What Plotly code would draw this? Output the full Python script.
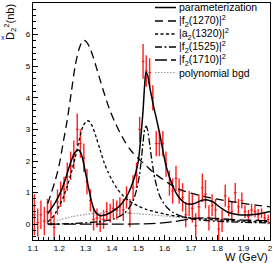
import plotly.graph_objects as go

# ---------------- data points (W in GeV, cross section in nb) ----------------
w_data = [1.105, 1.118, 1.130, 1.143, 1.155, 1.168, 1.180, 1.193, 1.205, 1.218,
          1.230, 1.243, 1.255, 1.268, 1.280, 1.293, 1.305, 1.318, 1.330, 1.343,
          1.355, 1.368, 1.380, 1.393, 1.405, 1.418, 1.430, 1.443, 1.455, 1.468,
          1.480, 1.493, 1.505, 1.518, 1.530, 1.543, 1.555, 1.568, 1.580, 1.593,
          1.605, 1.618, 1.630, 1.643, 1.655, 1.668, 1.680, 1.693, 1.705, 1.718,
          1.730, 1.743, 1.755, 1.768, 1.780, 1.793, 1.805, 1.818, 1.830, 1.843,
          1.855, 1.868, 1.880, 1.893, 1.905, 1.918, 1.930, 1.943, 1.955, 1.968,
          1.980, 1.993]
y_data = [0.30, 0.05, 0.30, 0.10, 0.40, 0.35, -0.10, 0.70, 0.95, 1.10,
          1.50, 1.85, 2.20, 3.00, 2.55, 2.10, 1.35, 0.75, 0.15, 0.20,
          0.05, 0.15, 0.40, 0.35, 0.50, 0.45, 0.55, 0.45, 0.85, 0.35,
          1.15, 1.55, 3.00, 5.15, 4.85, 4.80, 4.00, 2.55, 2.55, 2.55,
          1.90, 1.30, 1.05, 1.45, 1.05, 0.85, 0.30, 0.65, 0.50, -0.05,
          0.55, 1.15, 0.95, 0.20, 0.60, 0.45, -0.15, 0.10, 0.90, 0.55,
          0.40, 1.00, 0.55, 0.75, 0.40, 0.25, 0.45, 0.40, 0.30, 0.35,
          0.20, 0.15]
e_data = [0.65, 0.45, 0.45, 0.45, 0.40, 0.40, 0.40, 0.40, 0.40, 0.40,
          0.45, 0.45, 0.45, 0.50, 0.45, 0.45, 0.40, 0.35, 0.35, 0.30,
          0.30, 0.30, 0.30, 0.30, 0.30, 0.30, 0.30, 0.35, 0.35, 0.45,
          0.40, 0.40, 0.40, 0.55, 0.50, 0.45, 0.40, 0.40, 0.40, 0.40,
          0.40, 0.40, 0.40, 0.40, 0.40, 0.45, 0.40, 0.40, 0.45, 0.40,
          0.40, 0.45, 0.45, 0.40, 0.35, 0.35, 0.35, 0.35, 0.35, 0.30,
          0.30, 0.30, 0.25, 0.25, 0.20, 0.20, 0.20, 0.18, 0.18, 0.15,
          0.15, 0.15]
x_half = 0.005

# ---------------- fit components ----------------
w_param = [1.156, 1.17, 1.184, 1.197, 1.209, 1.222, 1.234, 1.245, 1.255, 1.265,
           1.272, 1.279, 1.286, 1.293, 1.30, 1.31, 1.32, 1.33, 1.342, 1.355,
           1.37, 1.385, 1.40, 1.418, 1.435, 1.45, 1.462, 1.472, 1.482, 1.49,
           1.50, 1.51, 1.518, 1.524, 1.529, 1.535, 1.542, 1.55, 1.56, 1.567,
           1.575, 1.585, 1.595, 1.607, 1.62, 1.635, 1.65, 1.665, 1.68, 1.695,
           1.71, 1.725, 1.74, 1.755, 1.77, 1.785, 1.80, 1.82, 1.84, 1.86,
           1.88, 1.90, 1.92, 1.94, 1.96, 1.98, 2.0]
y_param = [0.34, 0.50, 0.68, 0.88, 1.10, 1.40, 1.72, 2.00, 2.20, 2.32,
           2.35, 2.30, 2.15, 1.90, 1.60, 1.20, 0.80, 0.50, 0.33, 0.27,
           0.28, 0.33, 0.40, 0.50, 0.63, 0.80, 0.98, 1.17, 1.40, 1.62,
           2.00, 2.80, 3.60, 4.40, 4.82, 4.72, 4.40, 4.05, 3.65, 3.40,
           3.10, 2.70, 2.25, 1.80, 1.45, 1.13, 0.90, 0.75, 0.66, 0.63,
           0.65, 0.70, 0.75, 0.77, 0.75, 0.70, 0.60, 0.48, 0.38, 0.33,
           0.30, 0.29, 0.29, 0.31, 0.33, 0.36, 0.40]

w_f1270 = [1.156, 1.17, 1.185, 1.2, 1.215, 1.23, 1.245, 1.26, 1.275, 1.29,
           1.30, 1.315, 1.33, 1.35, 1.37, 1.39, 1.41, 1.43, 1.45, 1.475,
           1.5, 1.53, 1.56, 1.6, 1.65, 1.7, 1.76, 1.82, 1.88, 1.94, 2.0]
y_f1270 = [0.65, 1.00, 1.40, 1.90, 2.60, 3.30, 4.15, 5.00, 5.55, 5.82,
           5.80, 5.60, 5.25, 4.70, 4.15, 3.65, 3.25, 2.90, 2.60, 2.30,
           2.08, 1.85, 1.62, 1.38, 1.12, 0.98, 0.86, 0.76, 0.68, 0.61, 0.55]

w_a1320 = [1.156, 1.17, 1.185, 1.2, 1.215, 1.23, 1.245, 1.26, 1.275, 1.29,
           1.305, 1.315, 1.325, 1.34, 1.355, 1.37, 1.385, 1.4, 1.42, 1.44,
           1.46, 1.48, 1.5, 1.53, 1.56, 1.6, 1.65, 1.7, 1.8, 1.9, 2.0]
y_a1320 = [0.08, 0.18, 0.35, 0.58, 0.85, 1.20, 1.62, 2.10, 2.65, 3.10,
           3.27, 3.25, 3.10, 2.75, 2.35, 1.95, 1.65, 1.40, 1.12, 0.92,
           0.77, 0.66, 0.57, 0.47, 0.40, 0.32, 0.25, 0.20, 0.14, 0.10, 0.08]

w_f1525 = [1.156, 1.25, 1.35, 1.4, 1.43, 1.45, 1.47, 1.485, 1.495, 1.505,
           1.512, 1.518, 1.524, 1.53, 1.536, 1.542, 1.55, 1.558, 1.568, 1.58,
           1.595, 1.61, 1.63, 1.66, 1.7, 1.75, 1.8, 1.9, 2.0]
y_f1525 = [0.00, 0.02, 0.08, 0.15, 0.25, 0.37, 0.58, 0.85, 1.15, 1.60,
           2.10, 2.60, 3.00, 3.10, 2.95, 2.60, 2.10, 1.65, 1.25, 0.92,
           0.68, 0.52, 0.38, 0.26, 0.18, 0.12, 0.09, 0.06, 0.04]

w_f1710 = [1.156, 1.3, 1.4, 1.5, 1.55, 1.6, 1.65, 1.7, 1.75, 1.8, 1.85, 1.9, 1.95, 2.0]
y_f1710 = [0.00, 0.00, 0.00, 0.01, 0.02, 0.05, 0.10, 0.17, 0.20, 0.18, 0.15, 0.13, 0.12, 0.11]

w_bgd = [1.156, 1.2, 1.25, 1.3, 1.35, 1.4, 1.45, 1.5, 1.6, 1.7, 1.8, 1.9, 2.0]
y_bgd = [0.03, 0.14, 0.24, 0.31, 0.35, 0.37, 0.36, 0.33, 0.26, 0.18, 0.12, 0.08, 0.05]

x_ticks = [1.1, 1.2, 1.3, 1.4, 1.5, 1.6, 1.7, 1.8, 1.9, 2.0]
x_ticktext = ["1.1", "1.2", "1.3", "1.4", "1.5", "1.6", "1.7", "1.8", "1.9", "2"]
y_ticks = [0, 1, 2, 3, 4, 5, 6, 7]

legend_labels = ["parameterization",
                 "|f<sub>2</sub>(1270)|<sup>2</sup>",
                 "|a<sub>2</sub>(1320)|<sup>2</sup>",
                 "|f<sub>2</sub>(1525)|<sup>2</sup>",
                 "|f<sub>2</sub>(1710)|<sup>2</sup>",
                 "polynomial bgd"]

# ---------------- styles ----------------
W, H = 273, 263
L, R, T, B = 33, 3, 3, 23
PW, PH = W - L - R, H - T - B
FONT = "Liberation Sans, Arial, sans-serif"

styles = [
    dict(color="black", width=1.5, dash="solid"),
    dict(color="black", width=1.3, dash="8px,5px"),
    dict(color="black", width=1.3, dash="3px,2.5px"),
    dict(color="black", width=1.3, dash="7px,2.5px,2px,2.5px"),
    dict(color="black", width=1.3, dash="12px,4px"),
    dict(color="#999999", width=1.2, dash="1.5px,1.5px"),
]

fig = go.Figure()

fig.add_trace(go.Scatter(
    x=w_data, y=y_data, mode="markers",
    marker=dict(size=1, color="red"),
    error_y=dict(type="data", array=e_data, color="#ff2020", thickness=1.4, width=0),
    error_x=dict(type="constant", value=x_half, color="#ff2020", thickness=1.2, width=0),
    showlegend=False, hoverinfo="skip"))

curves = [(w_bgd, y_bgd, 5), (w_f1710, y_f1710, 4), (w_f1525, y_f1525, 3),
          (w_a1320, y_a1320, 2), (w_f1270, y_f1270, 1), (w_param, y_param, 0)]
for xs, ys, si in curves:
    fig.add_trace(go.Scatter(x=xs, y=ys, mode="lines",
                             line=dict(shape="spline", smoothing=0.8, **styles[si]),
                             showlegend=False, hoverinfo="skip"))

# ---------------- hand-drawn legend (ROOT style) ----------------
def px_x(p):
    return (p - L) / PW

def px_y(p):
    return (H - B - p) / PH

rows = [7.5, 21, 34, 47, 60, 72.5]
shapes = []
annotations = []
for lab, row, st in zip(legend_labels, rows, styles):
    shapes.append(dict(type="line", xref="paper", yref="paper",
                       x0=px_x(155), x1=px_x(176), y0=px_y(row), y1=px_y(row),
                       line=st))
    annotations.append(dict(text=lab, xref="paper", yref="paper",
                            x=px_x(177), y=px_y(row), xanchor="left", yanchor="middle",
                            showarrow=False, font=dict(family=FONT, size=10.5, color="black")))

annotations.append(dict(text="D<sub>2</sub><sup>2</sup>(nb)", xref="paper", yref="paper",
                        x=px_x(10), y=px_y(2), xanchor="center", yanchor="top",
                        textangle=-90, showarrow=False,
                        font=dict(family=FONT, size=11, color="black")))
annotations.append(dict(text="x", xref="paper", yref="paper",
                        x=px_x(3), y=px_y(37), xanchor="center", yanchor="middle",
                        showarrow=False, font=dict(family=FONT, size=7, color="blue")))
annotations.append(dict(text="W (GeV)", xref="paper", yref="paper",
                        x=1.0, y=px_y(257), xanchor="right", yanchor="middle",
                        showarrow=False, font=dict(family=FONT, size=11, color="black")))

fig.update_layout(
    width=W, height=H,
    margin=dict(l=L, r=R, t=T, b=B, pad=0),
    paper_bgcolor="white", plot_bgcolor="white",
    showlegend=False,
    shapes=shapes, annotations=annotations,
    xaxis=dict(range=[1.1, 2.0], tickvals=x_ticks, ticktext=x_ticktext,
               ticks="inside", ticklen=5, tickwidth=1, tickcolor="black",
               minor=dict(dtick=0.02, ticks="inside", ticklen=3, tickcolor="black"),
               showline=True, linecolor="black", linewidth=1.2, mirror=True,
               showgrid=False, zeroline=False, automargin=False,
               tickfont=dict(family=FONT, size=8, color="black")),
    yaxis=dict(range=[-0.5, 7], tickvals=y_ticks,
               ticks="inside", ticklen=5, tickwidth=1, tickcolor="black",
               minor=dict(dtick=0.2, ticks="inside", ticklen=3, tickcolor="black"),
               showline=True, linecolor="black", linewidth=1.2, mirror=True,
               showgrid=False, zeroline=False, automargin=False,
               tickfont=dict(family=FONT, size=8, color="black")),
)

fig.write_html("out.html",
               config={"displayModeBar": False, "staticPlot": True},
               post_script="document.body.style.margin='0';document.body.style.padding='0';"
                           "document.body.style.overflow='hidden';")
